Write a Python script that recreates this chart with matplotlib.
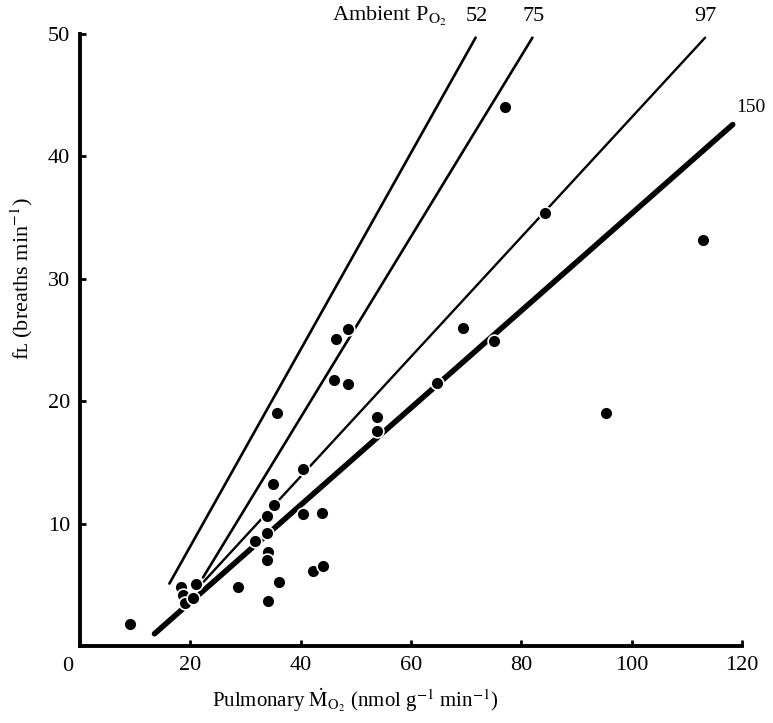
import matplotlib.pyplot as plt
import numpy as np

plt.rcParams['font.family'] = ['Liberation Serif', 'DejaVu Serif']
plt.rcParams['mathtext.fontset'] = 'stix'

# ---------------------- DATA ----------------------------------------------
mo2 = [9.0, 18.3, 18.6, 19.0, 20.4, 21.0, 28.6, 31.7, 33.9, 33.9, 34.1, 33.9,
       34.1, 35.0, 35.2, 35.7, 36.1, 40.5, 40.5, 42.2, 43.9, 44.1, 46.0, 46.4,
       48.6, 48.6, 53.8, 53.8, 64.7, 69.5, 75.0, 95.4, 77.1, 84.2, 112.9]
fl = [1.8, 4.8, 4.2, 3.5, 3.9, 5.1, 4.8, 8.6, 9.2, 10.6, 7.7, 7.0,
      3.7, 13.2, 11.5, 19.0, 5.2, 14.5, 10.8, 6.1, 10.9, 6.5, 21.7, 25.1,
      25.9, 21.4, 18.7, 17.6, 21.5, 26.0, 24.9, 19.0, 44.0, 35.4, 33.2]

# regression lines for each ambient PO2: (x start, y start, x end, y end)
po2_labels = ['52', '75', '97', '150']
line_x0 = [16.2, 22.3, 22.3, 13.5]
line_y0 = [5.1, 5.6, 5.2, 1.0]
line_x1 = [71.7, 82.0, 113.3, 118.3]
line_y1 = [49.7, 49.7, 49.7, 42.6]
line_w = [1.9, 1.9, 1.7, 4.0]

# label positions (data coords)
label_x = [71.9, 82.2, 113.3, 118.9]
label_y = [51.4, 51.4, 51.4, 44.0]

# ---------------------- PLOT ------------------------
fig = plt.figure(figsize=(7.73, 7.23), dpi=100)
ax = fig.add_axes([0.1035, 0.1065, 0.8565, 0.8465])

for x0, y0, x1, y1, w in zip(line_x0, line_y0, line_x1, line_y1, line_w):
    ax.plot([x0, x1], [y0, y1], color='black', linewidth=w,
            solid_capstyle='round', zorder=2)

ax.scatter(mo2, fl, s=85, color='black', edgecolors='white',
           linewidths=1.2, zorder=3)

for lab, lx, ly in zip(po2_labels, label_x, label_y):
    if lab == '150':
        ax.text(lx, ly, lab, fontsize=14, ha='left', va='center', clip_on=False)
    else:
        ax.text(lx, ly, lab, fontsize=16, ha='center', va='center', clip_on=False)

ax.text(66.5, 51.4, r'Ambient P$_{\mathrm{O_2}}$', fontsize=16,
        ha='right', va='center', clip_on=False)

ax.set_xlim(0, 120)
ax.set_ylim(0, 50)
ax.set_xticks([20, 40, 60, 80, 100, 120])
ax.set_yticks([10, 20, 30, 40, 50])
ax.tick_params(direction='in', length=4, width=2, labelsize=16, pad=7)

for side in ['top', 'right']:
    ax.spines[side].set_visible(False)
for side in ['left', 'bottom']:
    ax.spines[side].set_linewidth(2.8)

# shared origin label
ax.text(-2.2, -0.9, '0', fontsize=16, ha='center', va='top', clip_on=False)

fig.text(0.46, 0.012, r'Pulmonary $\dot{\mathrm{M}}_{\mathrm{O_2}}$ (nmol g$^{-1}$ min$^{-1}$)',
         fontsize=15, ha='center', va='bottom')
fig.text(0.028, 0.615, 'fʟ (breaths min$^{-1}$)', fontsize=16,
         rotation=90, ha='center', va='center')

plt.savefig('out.png', dpi=100)
